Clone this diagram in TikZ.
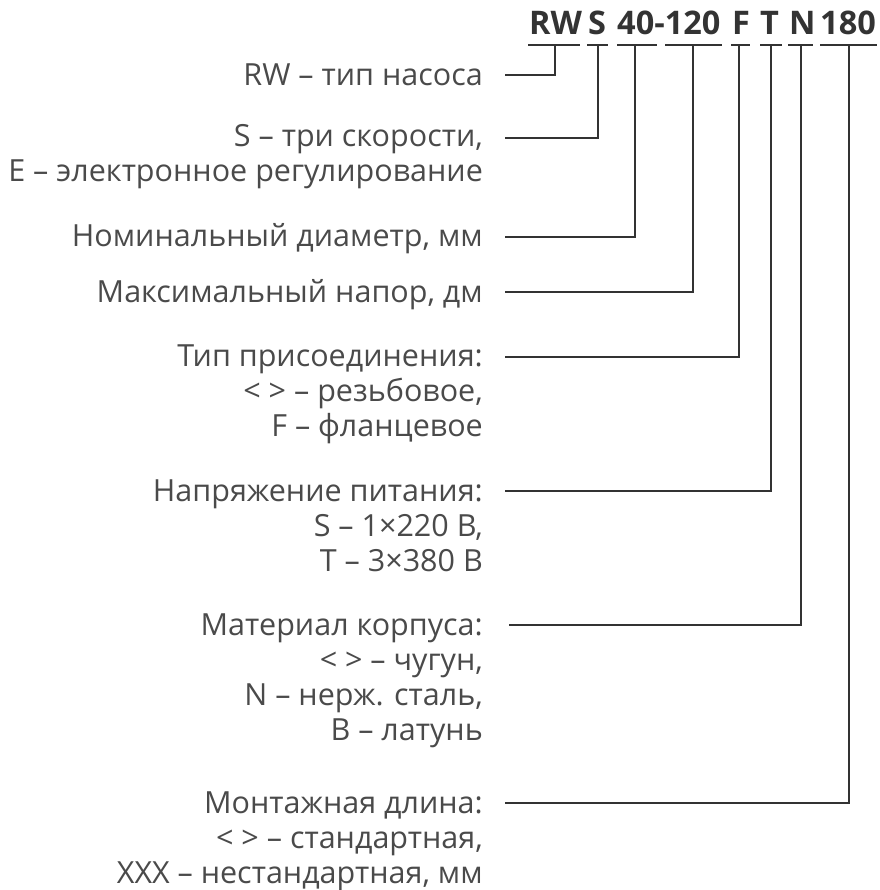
\documentclass[tikz,border=0pt]{standalone}
\usepackage{fontspec}
\setmainfont{Open Sans}
\definecolor{txt}{HTML}{4A4A4A}
\definecolor{ln}{HTML}{333333}
\begin{document}
\begin{tikzpicture}[x=1pt,y=-1pt,
  lab/.style={anchor=base east, inner sep=0, align=right, text=txt, font=\fontsize{30.5}{35}\selectfont},
  code/.style={anchor=base west, inner sep=0, text=ln, font=\bfseries\fontsize{32.5}{38}\selectfont},
  conn/.style={draw=ln, line width=1.6},
  ul/.style={draw=ln, line width=2}]
\useasboundingbox (0,0) rectangle (879,890);
% code parts
\node[code] (cRW) at (529,35) {RW};
\node[code] (cS) at (588,35) {S};
\node[code] (cD) at (617,35) {40-120};
\node[code] (cF) at (732,35) {F};
\node[code] (cT) at (760,35) {T};
\node[code] (cN) at (789,35) {N};
\node[code] (cL) at (820,35) {180};
% underlines
\draw[ul] (528,45) coordinate (uRWa) -- (580,45) coordinate (uRWb);
\draw[ul] (587,45) coordinate (uSa) -- (608,45) coordinate (uSb);
\draw[ul] (617,45) coordinate (uDa) -- (657,45) coordinate (uDb);
\draw[ul] (665,45) coordinate (uHa) -- (722,45) coordinate (uHb);
\draw[ul] (731,45) coordinate (uFa) -- (750,45) coordinate (uFb);
\draw[ul] (760,45) coordinate (uTa) -- (782,45) coordinate (uTb);
\draw[ul] (788,45) coordinate (uNa) -- (813,45) coordinate (uNb);
\draw[ul] (820,45) coordinate (uLa) -- (877,45) coordinate (uLb);
\coordinate (pRW) at (555,45);
\coordinate (pS) at (598,45);
\coordinate (pD) at (635,45);
\coordinate (pH) at (693,45);
\coordinate (pF) at (739,45);
\coordinate (pT) at (771,45);
\coordinate (pN) at (801,45);
\coordinate (pL) at (849,45);
% labels (base anchor = baseline of last line)
\node[lab] (lRW) at (483,86) {RW – тип насоса};
\node[lab] (lS) at (483,182) {S – три скорости,\\E – электронное регулирование};
\node[lab] (lD) at (483,247) {Номинальный диаметр, мм};
\node[lab] (lH) at (483,302) {Максимальный напор, дм};
\node[lab] (lF) at (483,436) {Тип присоединения:\\< > – резьбовое,\\F – фланцевое};
\node[lab] (lT) at (483,571) {Напряжение питания:\\S – 1×220 В,\\T – 3×380 В};
\node[lab] (lN) at (483,740) {Материал корпуса:\\< > – чугун,\\N – нерж. сталь,\\B – латунь};
\node[lab] (lL) at (483,883) {Монтажная длина:\\< > – стандартная,\\XXX – нестандартная, мм};
% connector starts
\coordinate (sRW) at (505,75);
\coordinate (sS) at (505,138);
\coordinate (sD) at (505,237);
\coordinate (sH) at (505,292);
\coordinate (sF) at (505,357);
\coordinate (sT) at (505,491);
\coordinate (sN) at (509,625);
\coordinate (sL) at (505,803);
\draw[conn] (sRW) -| (pRW);
\draw[conn] (sS) -| (pS);
\draw[conn] (sD) -| (pD);
\draw[conn] (sH) -| (pH);
\draw[conn] (sF) -| (pF);
\draw[conn] (sT) -| (pT);
\draw[conn] (sN) -| (pN);
\draw[conn] (sL) -| (pL);
\end{tikzpicture}
\end{document}
